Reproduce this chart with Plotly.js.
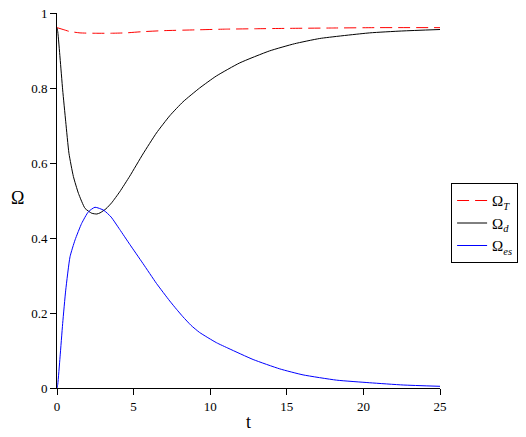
<!DOCTYPE html>
<html>
<head>
<meta charset="utf-8">
<script src="https://cdn.plot.ly/plotly-3.0.1.min.js"></script>
<style>html,body{margin:0;padding:0;background:#fff;}#chart{width:526px;height:437px;}</style>
</head>
<body>
<div id="chart"></div>
<script>
// Omega_T (red dashed)
const tT = [0, 0.4, 0.8, 1.5, 2.5, 3.5, 4.5, 5.5, 7, 9, 11, 13, 15, 18, 21, 25];
const omegaT = [0.961, 0.956, 0.951, 0.947, 0.946, 0.946, 0.947, 0.950, 0.953, 0.955, 0.957, 0.958, 0.959, 0.960, 0.961, 0.961];

// Omega_d (black)
const tD = [0, 0.05, 0.2, 0.37, 0.57, 0.78, 1.07, 1.4, 1.83, 2.27, 2.6, 2.81, 3.2, 3.57, 4.09, 4.75, 5.61, 6.49, 7.36, 8.22, 9.31, 10.4, 11.93, 13.88, 15.5, 17.15, 20.41, 22.5, 25];
const omegaD = [0.960, 0.950, 0.880, 0.795, 0.710, 0.626, 0.564, 0.519, 0.479, 0.466, 0.464, 0.467, 0.478, 0.494, 0.523, 0.565, 0.624, 0.680, 0.726, 0.763, 0.800, 0.832, 0.867, 0.899, 0.918, 0.932, 0.947, 0.952, 0.956];

// Omega_es (blue)
const tE = [0, 0.05, 0.2, 0.37, 0.57, 0.85, 1.18, 1.61, 2.05, 2.48, 3.05, 3.53, 4.09, 4.75, 5.61, 6.49, 7.36, 7.8, 8.22, 8.75, 9.31, 10.4, 11.23, 12.8, 14.54, 16.06, 18.24, 20.41, 22.6, 25];
const omegaE = [0, 0.01, 0.083, 0.172, 0.261, 0.350, 0.395, 0.439, 0.470, 0.482, 0.474, 0.456, 0.423, 0.383, 0.332, 0.279, 0.232, 0.210, 0.190, 0.167, 0.148, 0.121, 0.105, 0.076, 0.051, 0.035, 0.021, 0.014, 0.008, 0.0045];

const xTicks = [0, 5, 10, 15, 20, 25];
const yTicks = [0, 0.2, 0.4, 0.6, 0.8, 1];
const yTickText = ['0', '0.2', '0.4', '0.6', '0.8', '1'];

const serif = 'Liberation Serif';

const traces = [
  {x: tT, y: omegaT, mode: 'lines', name: 'Ω<sub><i>T</i></sub>',
   line: {color: '#ff0000', width: 1, dash: '12px,6px', shape: 'spline', smoothing: 0.5}},
  {x: tD, y: omegaD, mode: 'lines', name: 'Ω<sub><i>d</i></sub>',
   line: {color: '#000000', width: 1, shape: 'spline', smoothing: 0.5}},
  {x: tE, y: omegaE, mode: 'lines', name: 'Ω<sub><i>es</i></sub>',
   line: {color: '#0000ff', width: 1, shape: 'spline', smoothing: 0.5}}
];

const layout = {
  width: 526, height: 437,
  margin: {l: 57, r: 86, t: 13, b: 49, pad: 0, autoexpand: false},
  paper_bgcolor: '#fff', plot_bgcolor: '#fff',
  font: {family: serif, size: 13, color: '#000'},
  showlegend: true,
  legend: {x: 1.029, y: 0.546, xanchor: 'left', yanchor: 'top',
           bordercolor: '#000', borderwidth: 1, bgcolor: '#fff',
           font: {family: serif, size: 15, color: '#000'},
           itemwidth: 30, tracegroupgap: 0},
  xaxis: {range: [0, 25], tickvals: xTicks, ticktext: xTicks.map(String),
          showgrid: false, zeroline: false, showline: true, linecolor: '#000', linewidth: 1,
          ticks: 'outside', ticklen: 6, tickcolor: '#000', tickfont: {family: serif, size: 13, color: '#000'},
          title: {text: 't', font: {family: serif, size: 18, color: '#000'}, standoff: 2}},
  yaxis: {range: [0, 1], tickvals: yTicks, ticktext: yTickText,
          showgrid: false, zeroline: false, showline: true, linecolor: '#000', linewidth: 1,
          ticks: 'outside', ticklen: 6, tickcolor: '#000', tickfont: {family: serif, size: 13, color: '#000'}},
  annotations: [
    {text: 'Ω', xref: 'paper', yref: 'paper', x: -0.104, y: 0.507, showarrow: false,
     xanchor: 'center', yanchor: 'middle', font: {family: serif, size: 18, color: '#000'}}
  ]
};

Plotly.newPlot('chart', traces, layout, {displayModeBar: false, staticPlot: true});
</script>
</body>
</html>
